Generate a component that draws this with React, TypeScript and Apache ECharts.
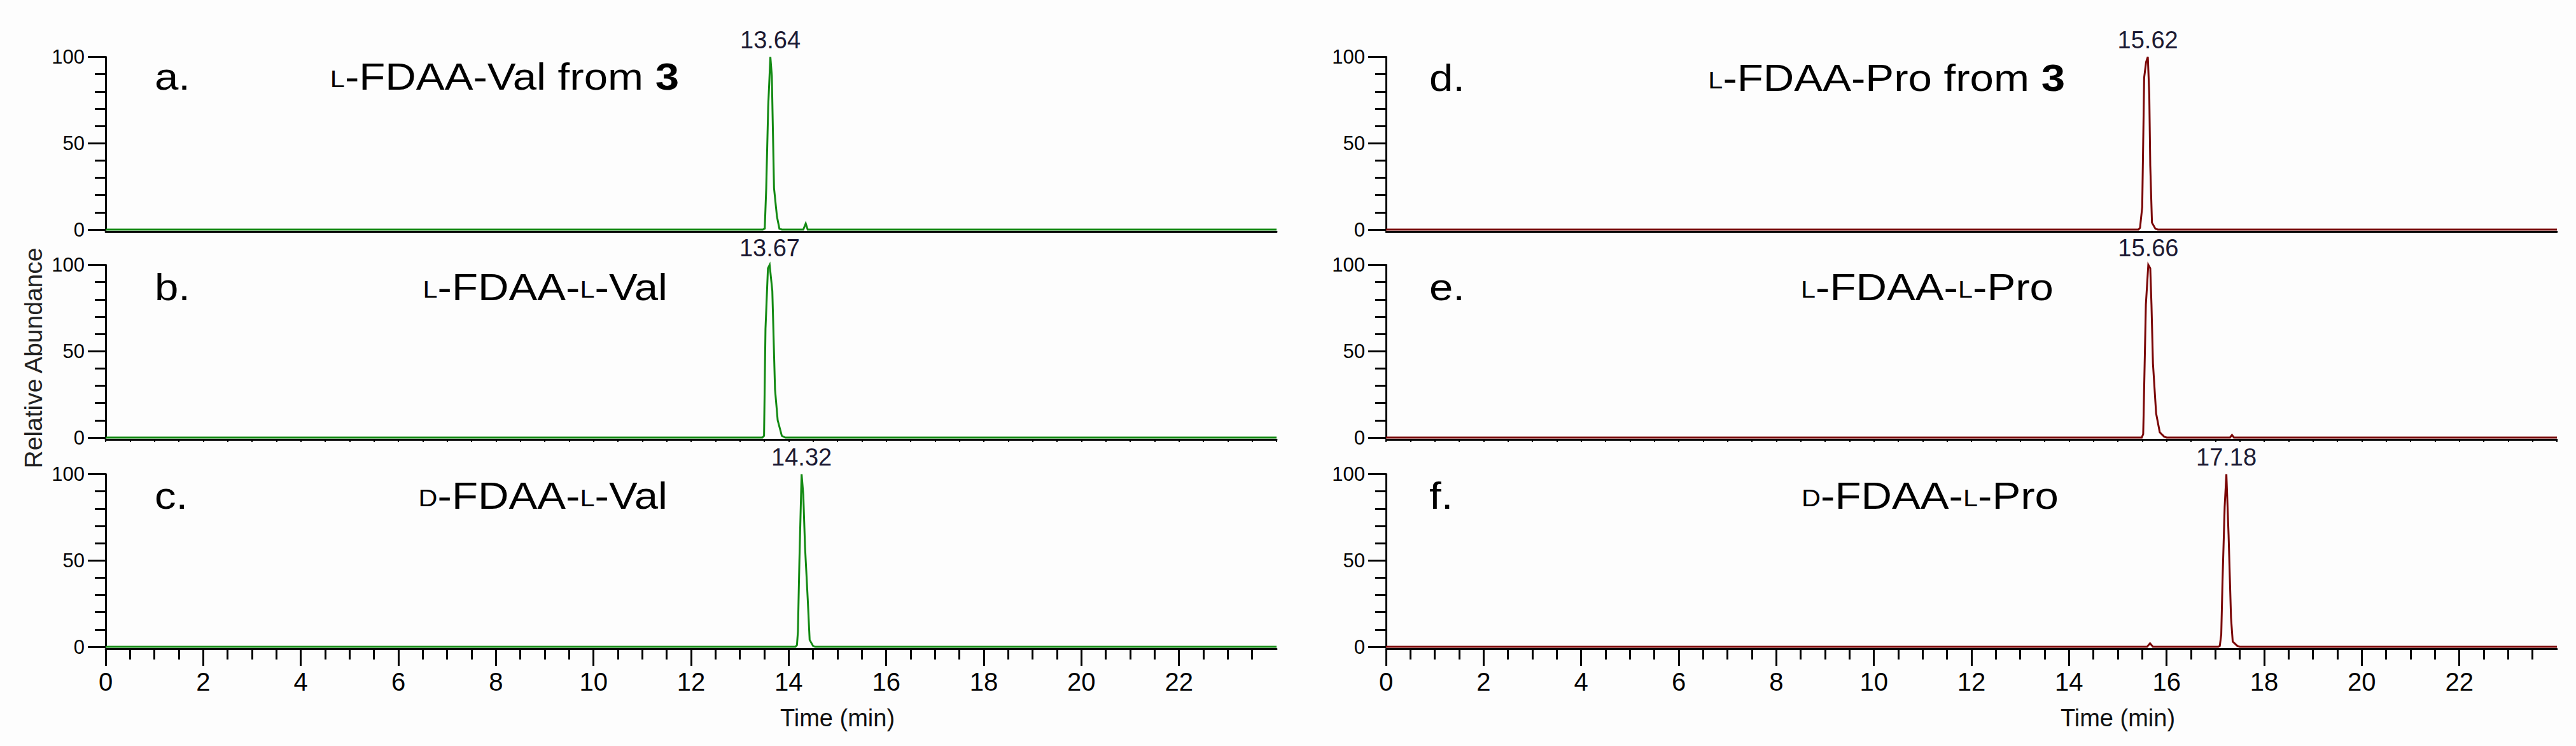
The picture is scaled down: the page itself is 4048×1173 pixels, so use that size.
import React, { useEffect, useRef } from 'react';
import * as echarts from 'echarts';

// ---------- data ----------
const timeTickLabels = [0, 2, 4, 6, 8, 10, 12, 14, 16, 18, 20, 22];
const timeMax = 24;
const abundanceMax = 100;

// [time (min), relative abundance (%)]
const traceValFrom3 = [
  [0, 0], [13.47, 0], [13.51, 0.6], [13.54, 24], [13.58, 71], [13.625, 100], [13.655, 89],
  [13.7, 24], [13.76, 7.5], [13.81, 0.5], [13.86, 0], [14.3, 0], [14.35, 3.5], [14.39, 0], [24, 0],
];
const traceLFdaaLVal = [
  [0, 0], [13.46, 0], [13.495, 1], [13.525, 63], [13.575, 98], [13.61, 100], [13.665, 85],
  [13.72, 28], [13.775, 10], [13.86, 1], [13.93, 0], [24, 0],
];
const traceDFdaaLVal = [
  [0, 0], [14.14, 0], [14.17, 1], [14.19, 9], [14.22, 50], [14.265, 100], [14.3, 88],
  [14.335, 58], [14.39, 28], [14.43, 4], [14.5, 0.5], [14.54, 0], [24, 0],
];
const traceProFrom3 = [
  [0, 0], [15.42, 0], [15.455, 1], [15.5, 13], [15.54, 88], [15.58, 97], [15.615, 100],
  [15.645, 78], [15.665, 37], [15.7, 4], [15.77, 0.5], [15.82, 0], [24, 0],
];
const traceLFdaaLPro = [
  [0, 0], [15.49, 0], [15.52, 2], [15.53, 15], [15.575, 77], [15.625, 100], [15.665, 98],
  [15.69, 77], [15.72, 43], [15.785, 14], [15.86, 3], [15.95, 0.5], [16.0, 0],
  [17.3, 0], [17.34, 1.5], [17.38, 0], [24, 0],
];
const traceDFdaaLPro = [
  [0, 0], [15.6, 0], [15.66, 2], [15.72, 0], [17.06, 0], [17.09, 0.5], [17.12, 7], [17.145, 37],
  [17.19, 81], [17.225, 100], [17.27, 65], [17.32, 17], [17.355, 3], [17.45, 0.5], [17.5, 0], [24, 0],
];

const apexLabels = ['13.64', '13.67', '14.32', '15.62', '15.66', '17.18'];
const panelLetters = ['a.', 'b.', 'c.', 'd.', 'e.', 'f.'];
const panelTitles = [
  '{sc|L}{n|-FDAA-Val from }{b|3}',
  '{sc|L}{n|-FDAA-}{sc|L}{n|-Val}',
  '{sc|D}{n|-FDAA-}{sc|L}{n|-Val}',
  '{sc|L}{n|-FDAA-Pro from }{b|3}',
  '{sc|L}{n|-FDAA-}{sc|L}{n|-Pro}',
  '{sc|D}{n|-FDAA-}{sc|L}{n|-Pro}',
];
const traces = [traceValFrom3, traceLFdaaLVal, traceDFdaaLVal, traceProFrom3, traceLFdaaLPro, traceDFdaaLPro];

// ---------- layout / style ----------
const FONT = '"Liberation Sans", Arial, Helvetica, sans-serif';
const GREEN = '#138a13';
const RED = '#7a0505';
const INK = '#000';
const LABEL_INK = '#1c1a33';
const gridLefts = [166, 2178];
const gridWidth = 1840;
const gridTops = [89.5, 416.5, 745.5];
const gridHeight = 271.5;
const titleRight = [1067, 1049, 1049, 3245, 3227, 3235];
const letterLeft = [243, 243, 243, 2246, 2246, 2246];
const baselines = [141, 472, 800, 143, 472, 800];

function apexOf(trace: number[][]) {
  let best = trace[0];
  for (const p of trace) if (p[1] > best[1]) best = p;
  return best;
}

function buildOption() {
  const grid: any[] = [];
  const xAxis: any[] = [];
  const yAxis: any[] = [];
  const series: any[] = [];
  const graphic: any[] = [];

  for (let i = 0; i < 6; i++) {
    const col = i < 3 ? 0 : 1;
    const row = i % 3;
    const color = col === 0 ? GREEN : RED;
    grid.push({
      left: gridLefts[col], top: gridTops[row], width: gridWidth, height: gridHeight,
      containLabel: false, outerBoundsMode: 'none',
    });
    const bottom = row === 2;
    xAxis.push({
      type: 'value', gridIndex: i, min: 0, max: timeMax, interval: bottom ? 2 : 0.5,
      offset: 3,
      axisLine: { show: true, onZero: false, lineStyle: { color: INK, width: 3 } },
      axisTick: bottom
        ? { show: true, length: 27, customValues: timeTickLabels, lineStyle: { color: INK, width: 3 } }
        : row === 1
        ? { show: true, length: 4, lineStyle: { color: INK, width: 2 } }
        : { show: false },
      minorTick: bottom
        ? { show: true, splitNumber: 4, length: 17, lineStyle: { color: INK, width: 3 } }
        : { show: false },
      axisLabel: bottom
        ? { show: true, customValues: timeTickLabels, fontSize: 40, color: INK, margin: 32, fontFamily: FONT }
        : { show: false },
      splitLine: { show: false },
    });
    yAxis.push({
      type: 'value', gridIndex: i, min: 0, max: abundanceMax, interval: 50,
      axisLine: { show: true, lineStyle: { color: INK, width: 3 } },
      axisTick: { show: true, length: 28, lineStyle: { color: INK, width: 3 } },
      minorTick: { show: true, splitNumber: 5, length: 17, lineStyle: { color: INK, width: 3 } },
      axisLabel: { fontSize: 31, color: INK, margin: 33, fontFamily: FONT },
      splitLine: { show: false },
      minorSplitLine: { show: false },
    });
    const apex = apexOf(traces[i]);
    series.push({
      type: 'line', xAxisIndex: i, yAxisIndex: i, data: traces[i],
      showSymbol: false, symbol: 'none', clip: false, silent: true,
      lineStyle: { color, width: 3, join: 'miter' },
      itemStyle: { color },
      markPoint: {
        symbol: 'circle', symbolSize: 0, silent: true,
        itemStyle: { color: 'transparent' },
        label: {
          show: true, position: 'top', distance: 8, formatter: '{c}',
          fontSize: 38, color: LABEL_INK, fontFamily: FONT,
        },
        data: [{ coord: [apex[0], apex[1]], value: apexLabels[i] }],
      },
    });

    const richBase = { fontFamily: FONT, fill: INK, color: INK, verticalAlign: 'bottom' };
    graphic.push({
      type: 'text', x: titleRight[i], y: baselines[i] - 21, scaleX: 1.12, silent: true,
      style: {
        text: panelTitles[i], fontSize: 60, fontFamily: FONT, fill: INK,
        align: 'right', textAlign: 'right', verticalAlign: 'middle', textVerticalAlign: 'middle',
        rich: {
          n: { ...richBase, fontSize: 60, lineHeight: 60 },
          b: { ...richBase, fontSize: 60, lineHeight: 60, fontWeight: 'bold' },
          sc: { ...richBase, fontSize: 37, lineHeight: 44, padding: [0, 0, 8, 0] },
        },
      },
    });
    graphic.push({
      type: 'text', x: letterLeft[i], y: baselines[i] - 21, scaleX: 1.12, silent: true,
      style: {
        text: panelLetters[i], fontSize: 60, fontFamily: FONT, fill: INK,
        align: 'left', textAlign: 'left', verticalAlign: 'middle', textVerticalAlign: 'middle',
      },
    });
  }

  for (let col = 0; col < 2; col++) {
    graphic.push({
      type: 'text', x: gridLefts[col] + (15 / timeMax) * gridWidth, y: 1129, silent: true,
      style: {
        text: 'Time (min)', fontSize: 38, fontFamily: FONT, fill: '#111',
        align: 'center', textAlign: 'center', verticalAlign: 'middle', textVerticalAlign: 'middle',
      },
    });
  }
  graphic.push({
    type: 'text', x: 52, y: 563, rotation: Math.PI / 2, silent: true,
    style: {
      text: 'Relative Abundance', fontSize: 39, fontFamily: FONT, fill: '#222',
      align: 'center', textAlign: 'center', verticalAlign: 'middle', textVerticalAlign: 'middle',
    },
  });

  return {
    animation: false,
    backgroundColor: '#fdfdfd',
    grid, xAxis, yAxis, series, graphic,
  };
}

export default function App() {
  const ref = useRef<HTMLDivElement>(null);
  useEffect(() => {
    if (!ref.current) return;
    const chart = echarts.init(ref.current, undefined, { renderer: 'svg' });
    chart.setOption(buildOption() as any);
    return () => chart.dispose();
  }, []);
  return (
    <div
      ref={ref}
      style={{ position: 'fixed', left: 0, top: 0, width: 4048, height: 1173 }}
    />
  );
}
